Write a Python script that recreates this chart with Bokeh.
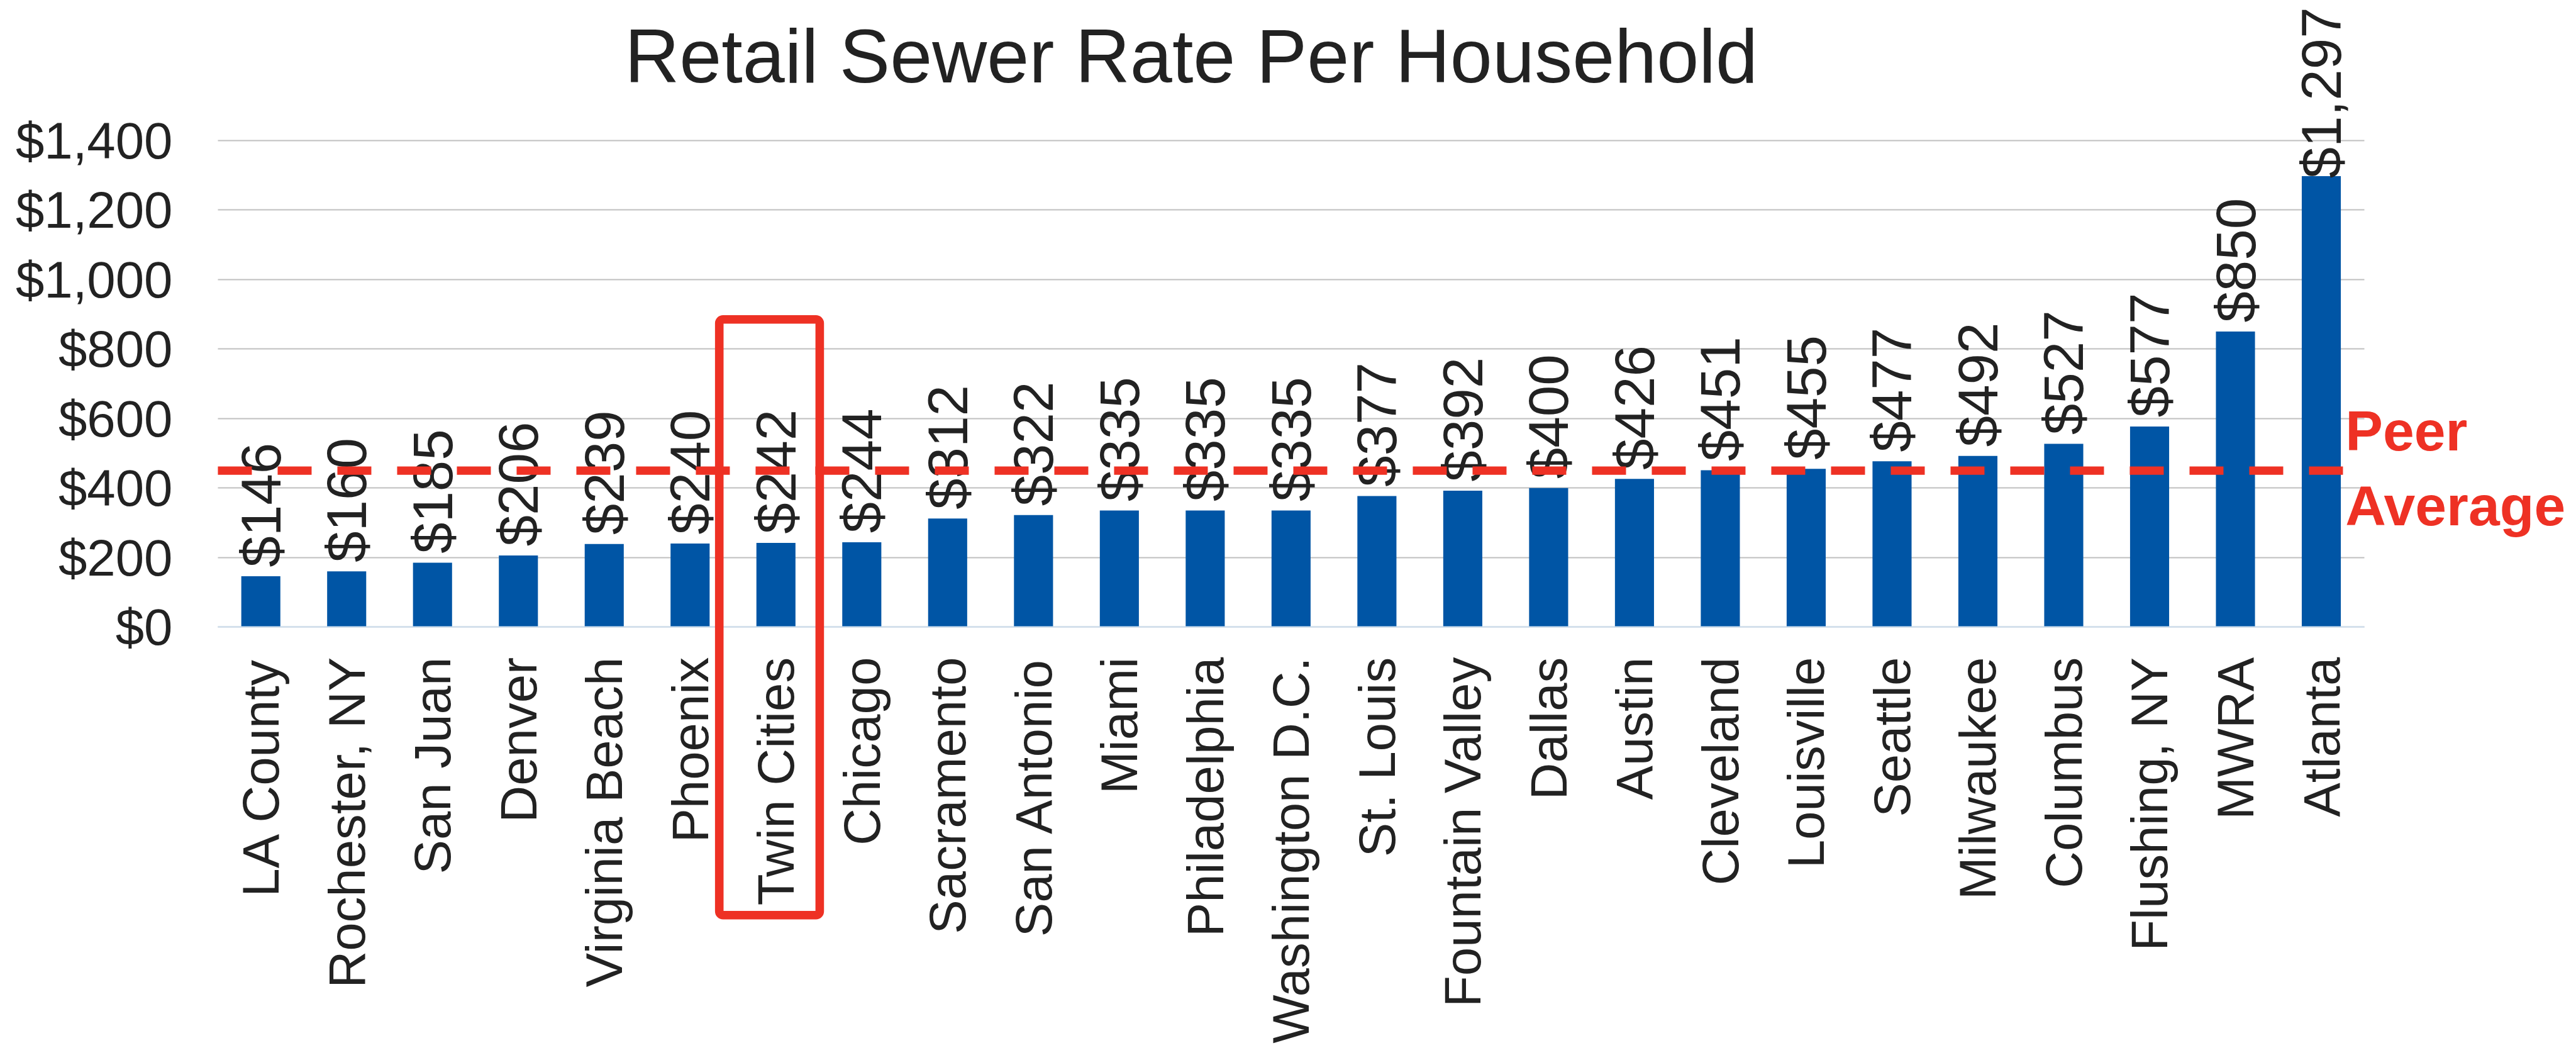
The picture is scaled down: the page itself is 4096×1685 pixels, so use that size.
import math
from bokeh.plotting import figure
from bokeh.models import (Range1d, ColumnDataSource, Label, BoxAnnotation,
                          NumeralTickFormatter, FixedTicker, Grid)
from bokeh.core.properties import value
from bokeh.embed import file_html
from bokeh.resources import INLINE

# ---------------- data ----------------
cities = ["LA County", "Rochester, NY", "San Juan", "Denver", "Virginia Beach", "Phoenix",
          "Twin Cities", "Chicago", "Sacramento", "San Antonio", "Miami", "Philadelphia",
          "Washington D.C.", "St. Louis", "Fountain Valley", "Dallas", "Austin", "Cleveland",
          "Louisville", "Seattle", "Milwaukee", "Columbus", "Flushing, NY", "MWRA", "Atlanta"]
rates = [146, 160, 185, 206, 239, 240, 242, 244, 312, 322, 335, 335, 335, 377, 392, 400,
         426, 451, 455, 477, 492, 527, 577, 850, 1297]
peer_average = 450
y_ticks = [0, 200, 400, 600, 800, 1000, 1200, 1400]
title_text = "Retail Sewer Rate Per Household"
peer_lines = ["Peer", "Average"]
highlight = "Twin Cities"

# ---------------- style ----------------
BLUE = "#0055A5"
RED = "#EE3124"
TEXT = "#222222"
FONT = "Liberation Sans"
W, H = 4092, 1683

n = len(cities)
positions = [i + 0.5 for i in range(n)]          # category centres on the x scale
label_gap = 26          # data units between bar top and value label
label_cap = 1291        # keep the tallest label inside the chart

src = ColumnDataSource(dict(
    x=positions,
    rate=rates,
    label=["${:,}".format(r) for r in rates],
    label_y=[min(r + label_gap, label_cap) for r in rates],
))

# the frame covers the whole canvas; axes are pinned at x=0 / y=0
p = figure(width=W, height=H,
           x_range=Range1d(-2.5343, 27.441),
           y_range=Range1d(-1243.1, 1803.1),
           output_backend="svg", toolbar_location=None, tools="",
           min_border=0, min_border_left=0, min_border_right=0,
           min_border_top=0, min_border_bottom=0,
           outline_line_color=None,
           background_fill_color="white", border_fill_color="white")

# grid (horizontal lines only, limited to the category area)
p.xgrid.grid_line_color = None
p.ygrid.ticker = FixedTicker(ticks=y_ticks)
p.ygrid.grid_line_color = "#C0C0C0"
p.ygrid.grid_line_width = 1.9
p.ygrid.bounds = (y_ticks[0], y_ticks[-1])
if "cross_bounds" in Grid.properties():
    p.ygrid.cross_bounds = (0, n)

# bars
p.vbar(x="x", top="rate", width=0.455, source=src, fill_color=BLUE, line_color=None)

# value labels
p.text(x="x", y="label_y", text="label", source=src, angle=math.pi / 2,
       text_align="left", text_baseline="middle", text_font=value(FONT),
       text_font_size="89px", text_color=TEXT)

# peer average dashed line
p.line(x=[0, n], y=[peer_average, peer_average], line_color=RED,
       line_width=13.3, line_dash="54 41", line_cap="butt")

# y axis
p.yaxis.fixed_location = 0
p.yaxis.bounds = (y_ticks[0], y_ticks[-1])
p.yaxis.ticker = FixedTicker(ticks=y_ticks)
p.yaxis.formatter = NumeralTickFormatter(format="$0,0")
p.yaxis.axis_line_color = None
p.yaxis.major_tick_line_color = None
p.yaxis.minor_tick_line_color = None
p.yaxis.major_tick_out = 0
p.yaxis.major_tick_in = 0
p.yaxis.minor_tick_out = 0
p.yaxis.minor_tick_in = 0
p.yaxis.major_label_standoff = 72
p.yaxis.major_label_text_font = FONT
p.yaxis.major_label_text_font_size = "81.6px"
p.yaxis.major_label_text_color = TEXT

# x axis (categories)
p.xaxis.fixed_location = 0
p.xaxis.bounds = (0, n)
p.xaxis.ticker = FixedTicker(ticks=positions)
p.xaxis.major_label_overrides = {pos: name for pos, name in zip(positions, cities)}
p.xaxis.axis_line_color = "#D0E1F2"
p.xaxis.axis_line_width = 1.9
p.xaxis.major_tick_line_color = None
p.xaxis.minor_tick_line_color = None
p.xaxis.major_tick_out = 0
p.xaxis.major_tick_in = 0
p.xaxis.minor_tick_out = 0
p.xaxis.minor_tick_in = 0
p.xaxis.major_label_orientation = math.pi / 2
p.xaxis.major_label_standoff = 48
p.xaxis.major_label_text_font = FONT
p.xaxis.major_label_text_font_size = "81.6px"
p.xaxis.major_label_text_color = TEXT

# highlight box around Twin Cities
hi = cities.index(highlight)
box = BoxAnnotation(left=hi - 0.16, right=hi + 1.01, top=885, bottom=-829,
                    fill_color=None, fill_alpha=0, line_color=RED, line_alpha=1.0,
                    line_width=13.6, border_radius=6)
p.add_layout(box)

# title
p.add_layout(Label(x=4.738, y=1641.8, text=title_text, text_font=FONT,
                   text_font_size="120.5px", text_color=TEXT,
                   text_align="left", text_baseline="middle"))

# Peer Average text
for txt, yy in zip(peer_lines, [563.8, 348.4]):
    p.add_layout(Label(x=24.78, y=yy, text=txt, text_font=FONT,
                       text_font_size="89.5px", text_font_style="bold",
                       text_color=RED, text_align="left", text_baseline="middle"))

open("out.html", "w").write(file_html(p, INLINE))
